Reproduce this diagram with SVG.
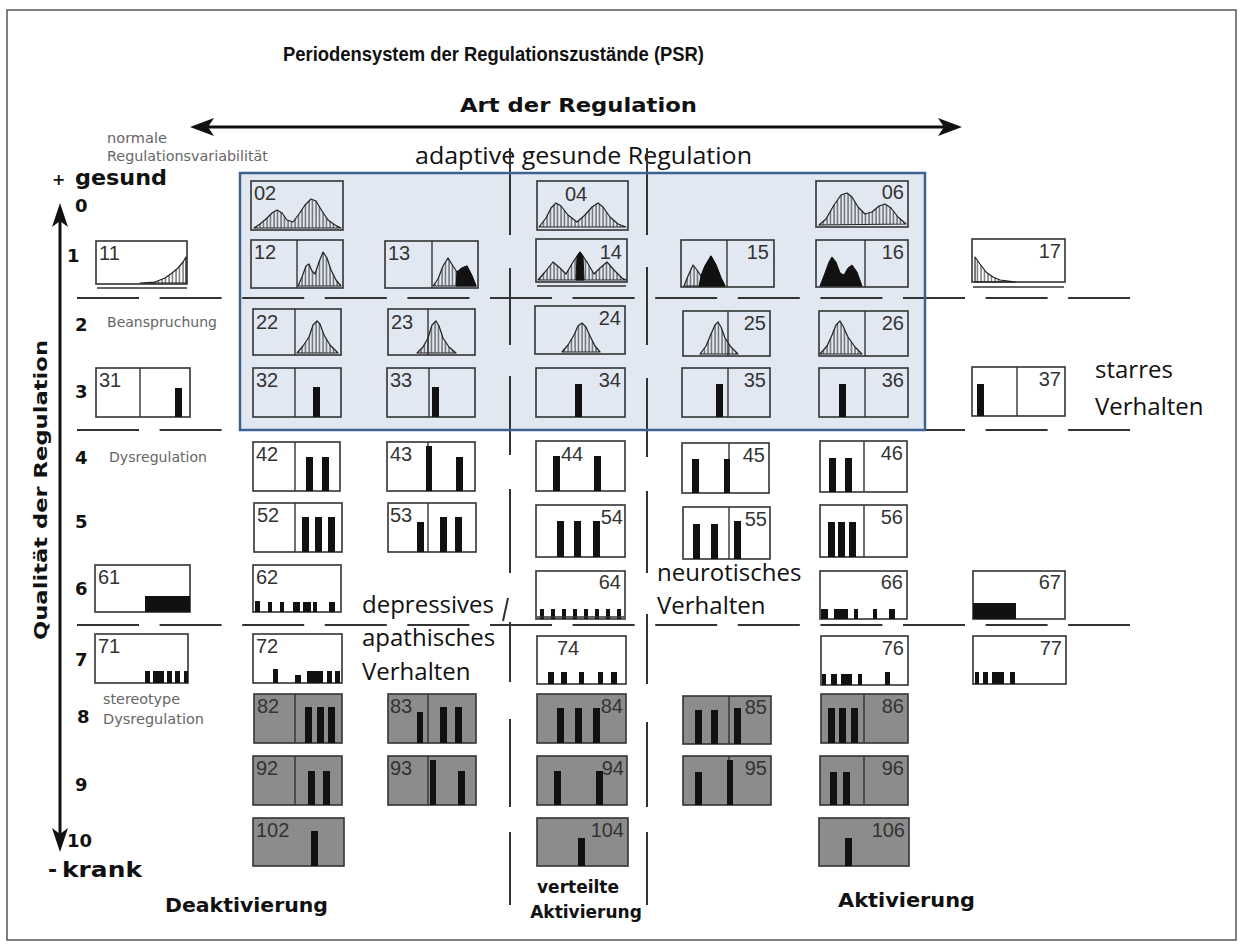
<svg xmlns="http://www.w3.org/2000/svg" width="1244" height="947" viewBox="0 0 1244 947">
<defs>
<style>
.bx{fill:none;stroke:#333;stroke-width:1.6}
.gb{fill:#8c8c8c;stroke:#333;stroke-width:1.6}
.sp{stroke:#333;stroke-width:1.4}
.lb{font-family:'Liberation Sans',Arial,sans-serif;font-size:20px;fill:#333}
.r{text-anchor:end}
.b{fill:#111}
.h{fill:url(#hatch);stroke:#222;stroke-width:1.2;stroke-linejoin:round}
.k{fill:#111;stroke:#111;stroke-width:1}
.dash{stroke:#333;stroke-width:2;stroke-dasharray:62 20.6;fill:none}
.vl{stroke:#333;stroke-width:2}
.hd{font-family:'DejaVu Sans',Verdana,sans-serif;font-weight:bold;fill:#111}
.sm{font-family:'DejaVu Sans',Verdana,sans-serif;font-size:14px;fill:#666}
.cal{font-family:'Open Sans','Liberation Sans',sans-serif;font-size:24px;fill:#111}
.ex{stroke:#333;stroke-width:1.6}
</style>
<pattern id="hatch" patternUnits="userSpaceOnUse" width="3.5" height="10">
<line x1="1" y1="0" x2="1" y2="10" stroke="#333" stroke-width="1"/>
</pattern>
</defs>
<rect x="7" y="10" width="1229" height="930" fill="#fff" stroke="#555" stroke-width="1.5"/>
<rect id="adaptive-area" x="240" y="173" width="685" height="257" fill="#e1e8f1"/>

<g id="titles">
<text x="283" y="61" font-family="'Liberation Sans',Arial,sans-serif" font-weight="bold" font-size="21" fill="#111" textLength="421" lengthAdjust="spacingAndGlyphs">Periodensystem der Regulationszustände (PSR)</text>
<text class="hd" x="460" y="112" font-size="19" textLength="237" lengthAdjust="spacingAndGlyphs">Art der Regulation</text>
<text class="sm" x="107" y="143" textLength="60" lengthAdjust="spacingAndGlyphs">normale</text>
<text class="sm" x="107" y="161" textLength="161" lengthAdjust="spacingAndGlyphs">Regulationsvariabilität</text>
<text class="cal" x="415" y="164" textLength="337" lengthAdjust="spacingAndGlyphs">adaptive gesunde Regulation</text>
<text class="hd" x="52" y="185" font-size="16">+</text>
<text class="hd" x="75" y="185" font-size="22" textLength="92" lengthAdjust="spacingAndGlyphs">gesund</text>
<text class="hd" x="48" y="877" font-size="22">-</text>
<text class="hd" x="62" y="877" font-size="22" textLength="80" lengthAdjust="spacingAndGlyphs">krank</text>
<text class="hd" font-size="18" text-anchor="middle" transform="translate(47,490) rotate(-90)" textLength="300" lengthAdjust="spacingAndGlyphs">Qualität der Regulation</text>
<text class="hd" x="165" y="912" font-size="19" textLength="163" lengthAdjust="spacingAndGlyphs">Deaktivierung</text>
<text class="hd" x="578" y="893" font-size="17" text-anchor="middle">verteilte</text>
<text class="hd" x="586" y="918" font-size="17" text-anchor="middle">Aktivierung</text>
<text class="hd" x="838" y="907" font-size="19" textLength="137" lengthAdjust="spacingAndGlyphs">Aktivierung</text>
<text class="sm" x="107" y="327" textLength="110" lengthAdjust="spacingAndGlyphs">Beanspruchung</text>
<text class="sm" x="109" y="462" textLength="98" lengthAdjust="spacingAndGlyphs">Dysregulation</text>
<text class="sm" x="103" y="704" textLength="77" lengthAdjust="spacingAndGlyphs">stereotype</text>
<text class="sm" x="103" y="724" textLength="101" lengthAdjust="spacingAndGlyphs">Dysregulation</text>
<text class="cal" x="1095" y="378">starres</text>
<text class="cal" x="1095" y="415">Verhalten</text>
<text class="cal" x="657" y="581">neurotisches</text>
<text class="cal" x="657" y="614">Verhalten</text>
<text class="cal" x="362" y="613">depressives</text>
<text class="cal" x="362" y="646">apathisches</text>
<text class="cal" x="362" y="680">Verhalten</text>
</g>

<g id="row-numbers" class="hd" font-size="18">
<text x="75" y="212">0</text>
<text x="67" y="262">1</text>
<text x="75" y="331">2</text>
<text x="75" y="398">3</text>
<text x="75" y="464">4</text>
<text x="75" y="528">5</text>
<text x="75" y="595">6</text>
<text x="75" y="666">7</text>
<text x="77" y="723">8</text>
<text x="75" y="791">9</text>
<text x="67" y="847">10</text>
</g>

<g id="connectors">
<line x1="198" y1="127" x2="954" y2="127" stroke="#111" stroke-width="3"/>
<polygon points="190,127 214,118 208,127 214,136" fill="#111"/>
<polygon points="962,127 938,118 944,127 938,136" fill="#111"/>
<line x1="60" y1="214" x2="60" y2="843" stroke="#111" stroke-width="3"/>
<polygon points="60,203 52,227 60,221 68,227" fill="#111"/>
<polygon points="60,852 52,828 60,834 68,828" fill="#111"/>
<line class="dash" x1="77" y1="298" x2="1130" y2="298"/>
<line class="dash" x1="77" y1="430" x2="1130" y2="430"/>
<line class="dash" x1="77" y1="625" x2="1130" y2="625"/>
<line class="vl" x1="510" y1="148" x2="510" y2="235"/>
<line class="vl" x1="510" y1="268" x2="510" y2="345"/>
<line class="vl" x1="510" y1="376" x2="510" y2="455"/>
<line class="vl" x1="510" y1="489" x2="510" y2="573"/>
<line class="vl" x1="508" y1="598" x2="503" y2="621"/>
<line class="vl" x1="510" y1="622" x2="510" y2="682"/>
<line class="vl" x1="510" y1="719" x2="510" y2="807"/>
<line class="vl" x1="510" y1="832" x2="510" y2="905"/>
<line class="vl" x1="647" y1="148" x2="647" y2="235"/>
<line class="vl" x1="647" y1="267" x2="647" y2="345"/>
<line class="vl" x1="647" y1="378" x2="647" y2="457"/>
<line class="vl" x1="647" y1="491" x2="647" y2="573"/>
<line class="vl" x1="647" y1="614" x2="647" y2="684"/>
<line class="vl" x1="647" y1="722" x2="647" y2="807"/>
<line class="vl" x1="647" y1="832" x2="647" y2="905"/>
</g>

<rect id="adaptive-frame" x="240" y="173" width="685" height="257" fill="none" stroke="#3d6190" stroke-width="2.5"/>

<!-- Row 0 -->
<g id="n02"><rect class="bx" x="251" y="181" width="92" height="49"/><path class="h" d="M254,228 L260,224 L266,219 L272,213 L277,210 L282,213 L287,220 L293,222 L299,214 L305,205 L311,199 L316,201 L322,211 L328,220 L335,225 L341,228 Z"/><text class="lb" x="254" y="200">02</text></g>
<g id="n04"><rect class="bx" x="537" y="181" width="91" height="49"/><path class="h" d="M539,227 L546,218 L551,208 L556,203 L561,206 L568,215 L577,222 L585,215 L592,207 L598,203 L603,207 L610,217 L618,224 L626,227 Z"/><text class="lb" x="565" y="201">04</text></g>
<g id="n06"><rect class="bx" x="816" y="181" width="92" height="46"/><path class="h" d="M819,225 L826,219 L834,205 L841,195 L847,193 L852,197 L858,207 L865,214 L872,212 L879,206 L885,204 L891,208 L898,217 L906,224 Z"/><text class="lb r" x="904" y="199">06</text></g>

<!-- Row 1 -->
<g id="n11"><rect class="bx" x="96" y="241" width="91" height="43"/><line class="ex" x1="97" y1="288" x2="187" y2="288"/><path class="h" d="M140,283 L155,282 L165,278 L172,273 L178,268 L183,262 L186,257 L186,283 Z"/><text class="lb" x="99" y="260">11</text></g>
<g id="n12"><rect class="bx" x="251" y="240" width="92" height="48"/><line class="sp" x1="297" y1="240" x2="297" y2="288"/><path class="h" d="M298,286 L302,277 L306,266 L309,264 L312,271 L315,274 L319,262 L323,252 L327,258 L331,270 L336,280 L341,286 Z"/><text class="lb" x="254" y="259">12</text></g>
<g id="n13"><rect class="bx" x="385" y="241" width="93" height="47"/><line class="sp" x1="432" y1="241" x2="432" y2="288"/><path class="h" d="M433,286 L438,279 L443,266 L448,258 L453,266 L457,272 L462,268 L467,266 L472,276 L476,286 Z"/><path class="k" d="M456,286 L457,272 L462,268 L467,266 L472,276 L476,286 Z"/><text class="lb" x="388" y="260">13</text></g>
<g id="n14"><rect class="bx" x="536" y="239" width="91" height="43"/><line class="ex" x1="537" y1="286" x2="626" y2="286"/><path class="h" d="M538,280 L545,272 L553,262 L560,268 L566,274 L573,262 L580,252 L587,262 L594,274 L600,268 L607,262 L614,270 L622,278 L626,280 Z"/><path class="k" d="M576,280 L577,256 L580,252 L583,256 L584,280 Z"/><text class="lb r" x="622" y="259">14</text></g>
<g id="n15"><rect class="bx" x="681" y="240" width="93" height="47"/><line class="sp" x1="727" y1="240" x2="727" y2="287"/><path class="h" d="M684,286 L688,276 L693,265 L697,270 L701,276 L705,266 L711,256 L716,265 L721,278 L725,286 Z"/><path class="k" d="M699,286 L701,276 L705,266 L711,256 L716,265 L721,278 L725,286 Z"/><text class="lb r" x="769" y="259">15</text></g>
<g id="n16"><rect class="bx" x="816" y="240" width="92" height="47"/><line class="sp" x1="865" y1="240" x2="865" y2="287"/><path class="k" d="M820,286 L825,273 L829,262 L832,257 L836,262 L840,273 L844,275 L848,268 L852,265 L857,272 L862,286 Z"/><text class="lb r" x="904" y="259">16</text></g>
<g id="n17"><rect class="bx" x="972" y="239" width="93" height="43"/><line class="ex" x1="973" y1="287" x2="1064" y2="287"/><path class="h" d="M975,282 L975,257 L980,264 L986,272 L993,277 L1000,280 L1008,281 L1016,282 Z"/><text class="lb r" x="1061" y="258">17</text></g>

<!-- Row 2 -->
<g id="n22"><rect class="bx" x="253" y="309" width="88" height="46"/><line class="sp" x1="295" y1="309" x2="295" y2="355"/><path class="h" d="M297,353 L303,346 L309,337 L313,325 L317,321 L320,324 L324,335 L330,345 L338,353 Z"/><text class="lb" x="256" y="329">22</text></g>
<g id="n23"><rect class="bx" x="388" y="309" width="87" height="46"/><line class="sp" x1="428" y1="309" x2="428" y2="355"/><path class="h" d="M417,353 L423,347 L428,338 L432,325 L436,321 L439,326 L443,338 L449,347 L456,353 Z"/><text class="lb" x="391" y="329">23</text></g>
<g id="n24"><rect class="bx" x="535" y="306" width="90" height="48"/><path class="h" d="M562,352 L568,345 L574,335 L578,326 L582,323 L586,327 L590,336 L595,346 L600,352 Z"/><text class="lb r" x="621" y="325">24</text></g>
<g id="n25"><rect class="bx" x="683" y="311" width="87" height="45"/><line class="sp" x1="728" y1="311" x2="728" y2="356"/><path class="h" d="M700,354 L706,346 L711,334 L715,325 L718,322 L721,327 L725,338 L731,347 L738,354 Z"/><text class="lb r" x="766" y="330">25</text></g>
<g id="n26"><rect class="bx" x="819" y="311" width="89" height="45"/><line class="sp" x1="865" y1="311" x2="865" y2="356"/><path class="h" d="M820,354 L827,346 L832,335 L836,325 L840,321 L843,326 L848,337 L855,347 L862,354 Z"/><text class="lb r" x="904" y="330">26</text></g>

<!-- Row 3 -->
<g id="n31"><rect class="bx" x="96" y="368" width="94" height="49"/><line class="sp" x1="140" y1="368" x2="140" y2="417"/><rect class="b" x="175" y="388" width="7" height="29"/><text class="lb" x="99" y="387">31</text></g>
<g id="n32"><rect class="bx" x="253" y="368" width="88" height="49"/><line class="sp" x1="295" y1="368" x2="295" y2="417"/><rect class="b" x="313" y="387" width="7" height="30"/><text class="lb" x="256" y="387">32</text></g>
<g id="n33"><rect class="bx" x="387" y="368" width="88" height="49"/><line class="sp" x1="429" y1="368" x2="429" y2="417"/><rect class="b" x="432" y="387" width="7" height="30"/><text class="lb" x="390" y="387">33</text></g>
<g id="n34"><rect class="bx" x="536" y="368" width="89" height="49"/><rect class="b" x="575" y="384" width="7" height="33"/><text class="lb r" x="621" y="387">34</text></g>
<g id="n35"><rect class="bx" x="682" y="368" width="88" height="49"/><line class="sp" x1="728" y1="368" x2="728" y2="417"/><rect class="b" x="716" y="384" width="7" height="33"/><text class="lb r" x="766" y="387">35</text></g>
<g id="n36"><rect class="bx" x="819" y="368" width="89" height="49"/><line class="sp" x1="865" y1="368" x2="865" y2="417"/><rect class="b" x="839" y="384" width="7" height="33"/><text class="lb r" x="904" y="387">36</text></g>
<g id="n37"><rect class="bx" x="972" y="367" width="93" height="49"/><line class="sp" x1="1017" y1="367" x2="1017" y2="416"/><rect class="b" x="977" y="384" width="7" height="32"/><text class="lb r" x="1061" y="386">37</text></g>

<!-- Row 4 -->
<g id="n42"><rect class="bx" x="253" y="442" width="87" height="49"/><line class="sp" x1="295" y1="442" x2="295" y2="491"/><rect class="b" x="306" y="457" width="7" height="34"/><rect class="b" x="322" y="457" width="7" height="34"/><text class="lb" x="256" y="461">42</text></g>
<g id="n43"><rect class="bx" x="387" y="442" width="88" height="49"/><line class="sp" x1="428" y1="442" x2="428" y2="491"/><rect class="b" x="426" y="446" width="6" height="45"/><rect class="b" x="456" y="457" width="7" height="34"/><text class="lb" x="390" y="461">43</text></g>
<g id="n44"><rect class="bx" x="536" y="441" width="89" height="50"/><rect class="b" x="553" y="456" width="7" height="35"/><rect class="b" x="594" y="456" width="7" height="35"/><text class="lb" x="561" y="461">44</text></g>
<g id="n45"><rect class="bx" x="682" y="443" width="87" height="50"/><line class="sp" x1="729" y1="443" x2="729" y2="493"/><rect class="b" x="692" y="459" width="7" height="34"/><rect class="b" x="724" y="459" width="6" height="34"/><text class="lb r" x="765" y="462">45</text></g>
<g id="n46"><rect class="bx" x="820" y="441" width="87" height="51"/><line class="sp" x1="864" y1="441" x2="864" y2="492"/><rect class="b" x="829" y="458" width="7" height="34"/><rect class="b" x="845" y="458" width="7" height="34"/><text class="lb r" x="903" y="460">46</text></g>

<!-- Row 5 -->
<g id="n52"><rect class="bx" x="254" y="503" width="88" height="49"/><line class="sp" x1="295" y1="503" x2="295" y2="552"/><rect class="b" x="302" y="517" width="7" height="35"/><rect class="b" x="315" y="517" width="7" height="35"/><rect class="b" x="328" y="517" width="7" height="35"/><text class="lb" x="257" y="522">52</text></g>
<g id="n53"><rect class="bx" x="388" y="503" width="88" height="49"/><line class="sp" x1="428" y1="503" x2="428" y2="552"/><rect class="b" x="417" y="522" width="7" height="30"/><rect class="b" x="440" y="517" width="7" height="35"/><rect class="b" x="455" y="517" width="7" height="35"/><text class="lb" x="390" y="522">53</text></g>
<g id="n54"><rect class="bx" x="536" y="505" width="89" height="52"/><rect class="b" x="557" y="521" width="7" height="36"/><rect class="b" x="574" y="521" width="7" height="36"/><rect class="b" x="593" y="521" width="7" height="36"/><text class="lb r" x="623" y="524">54</text></g>
<g id="n55"><rect class="bx" x="683" y="507" width="87" height="52"/><line class="sp" x1="729" y1="507" x2="729" y2="559"/><rect class="b" x="693" y="524" width="7" height="35"/><rect class="b" x="711" y="524" width="7" height="35"/><rect class="b" x="734" y="521" width="7" height="38"/><text class="lb r" x="767" y="526">55</text></g>
<g id="n56"><rect class="bx" x="820" y="505" width="87" height="52"/><line class="sp" x1="864" y1="505" x2="864" y2="557"/><rect class="b" x="828" y="522" width="7" height="35"/><rect class="b" x="838" y="522" width="7" height="35"/><rect class="b" x="849" y="522" width="7" height="35"/><text class="lb r" x="903" y="524">56</text></g>

<!-- Row 6 -->
<g id="n61"><rect class="bx" x="95" y="565" width="95" height="47"/><rect class="b" x="145" y="596" width="45" height="16"/><text class="lb" x="98" y="584">61</text></g>
<g id="n62"><rect class="bx" x="253" y="565" width="88" height="47"/><rect class="b" x="255" y="601" width="5" height="11"/><rect class="b" x="268" y="602" width="4" height="10"/><rect class="b" x="280" y="602" width="4" height="10"/><rect class="b" x="293" y="602" width="7" height="10"/><rect class="b" x="303" y="602" width="8" height="10"/><rect class="b" x="313" y="602" width="4" height="10"/><rect class="b" x="329" y="602" width="6" height="10"/><text class="lb" x="256" y="584">62</text></g>
<g id="n64"><rect class="bx" x="536" y="571" width="89" height="48"/><rect class="b" x="540" y="609" width="4" height="10"/><rect class="b" x="551" y="609" width="4" height="10"/><rect class="b" x="562" y="609" width="4" height="10"/><rect class="b" x="573" y="609" width="4" height="10"/><rect class="b" x="584" y="609" width="4" height="10"/><rect class="b" x="595" y="609" width="4" height="10"/><rect class="b" x="606" y="609" width="4" height="10"/><rect class="b" x="617" y="609" width="4" height="10"/><line class="ex" x1="537" y1="617" x2="624" y2="617" stroke-width="3"/><text class="lb r" x="621" y="589">64</text></g>
<g id="n66"><rect class="bx" x="820" y="571" width="87" height="48"/><rect class="b" x="821" y="609" width="7" height="10"/><rect class="b" x="834" y="609" width="14" height="10"/><rect class="b" x="854" y="609" width="4" height="10"/><rect class="b" x="873" y="609" width="4" height="10"/><rect class="b" x="889" y="609" width="6" height="10"/><text class="lb r" x="903" y="589">66</text></g>
<g id="n67"><rect class="bx" x="973" y="571" width="92" height="48"/><rect class="b" x="973" y="603" width="43" height="16"/><text class="lb r" x="1061" y="589">67</text></g>

<!-- Row 7 -->
<g id="n71"><rect class="bx" x="95" y="634" width="93" height="49"/><rect class="b" x="145" y="671" width="5" height="12"/><rect class="b" x="153" y="671" width="11" height="12"/><rect class="b" x="167" y="671" width="5" height="12"/><rect class="b" x="175" y="671" width="5" height="12"/><rect class="b" x="184" y="671" width="4" height="12"/><text class="lb" x="98" y="653">71</text></g>
<g id="n72"><rect class="bx" x="253" y="634" width="89" height="49"/><rect class="b" x="273" y="669" width="5" height="14"/><rect class="b" x="295" y="675" width="6" height="8"/><rect class="b" x="307" y="671" width="16" height="12"/><rect class="b" x="327" y="671" width="5" height="12"/><rect class="b" x="335" y="671" width="5" height="12"/><text class="lb" x="256" y="653">72</text></g>
<g id="n74"><rect class="bx" x="537" y="636" width="89" height="48"/><rect class="b" x="548" y="672" width="6" height="12"/><rect class="b" x="561" y="672" width="6" height="12"/><rect class="b" x="579" y="672" width="5" height="12"/><rect class="b" x="598" y="672" width="5" height="12"/><rect class="b" x="611" y="672" width="6" height="12"/><text class="lb" x="557" y="655">74</text></g>
<g id="n76"><rect class="bx" x="821" y="636" width="87" height="49"/><rect class="b" x="822" y="674" width="4" height="11"/><rect class="b" x="831" y="674" width="6" height="11"/><rect class="b" x="841" y="674" width="11" height="11"/><rect class="b" x="858" y="674" width="4" height="11"/><rect class="b" x="885" y="672" width="5" height="13"/><text class="lb r" x="904" y="655">76</text></g>
<g id="n77"><rect class="bx" x="973" y="636" width="93" height="48"/><rect class="b" x="975" y="672" width="4" height="12"/><rect class="b" x="983" y="672" width="5" height="12"/><rect class="b" x="992" y="672" width="12" height="12"/><rect class="b" x="1010" y="672" width="5" height="12"/><text class="lb r" x="1062" y="655">77</text></g>

<!-- Row 8 -->
<g id="n82"><rect class="gb" x="254" y="694" width="88" height="49"/><line class="sp" x1="295" y1="694" x2="295" y2="743"/><rect class="b" x="305" y="707" width="7" height="36"/><rect class="b" x="317" y="707" width="7" height="36"/><rect class="b" x="328" y="707" width="7" height="36"/><text class="lb" x="257" y="713">82</text></g>
<g id="n83"><rect class="gb" x="388" y="694" width="88" height="49"/><line class="sp" x1="428" y1="694" x2="428" y2="743"/><rect class="b" x="417" y="712" width="6" height="31"/><rect class="b" x="440" y="707" width="7" height="36"/><rect class="b" x="455" y="707" width="7" height="36"/><text class="lb" x="390" y="713">83</text></g>
<g id="n84"><rect class="gb" x="537" y="694" width="89" height="49"/><rect class="b" x="557" y="708" width="7" height="35"/><rect class="b" x="575" y="708" width="7" height="35"/><rect class="b" x="593" y="708" width="7" height="35"/><text class="lb r" x="623" y="713">84</text></g>
<g id="n85"><rect class="gb" x="683" y="696" width="88" height="48"/><line class="sp" x1="729" y1="696" x2="729" y2="744"/><rect class="b" x="695" y="710" width="7" height="34"/><rect class="b" x="711" y="710" width="7" height="34"/><rect class="b" x="734" y="708" width="7" height="36"/><text class="lb r" x="767" y="714">85</text></g>
<g id="n86"><rect class="gb" x="821" y="694" width="87" height="49"/><line class="sp" x1="864" y1="694" x2="864" y2="743"/><rect class="b" x="828" y="708" width="7" height="35"/><rect class="b" x="839" y="708" width="7" height="35"/><rect class="b" x="851" y="708" width="7" height="35"/><text class="lb r" x="904" y="713">86</text></g>

<!-- Row 9 -->
<g id="n92"><rect class="gb" x="253" y="756" width="89" height="49"/><line class="sp" x1="295" y1="756" x2="295" y2="805"/><rect class="b" x="308" y="771" width="7" height="34"/><rect class="b" x="323" y="771" width="7" height="34"/><text class="lb" x="256" y="775">92</text></g>
<g id="n93"><rect class="gb" x="388" y="756" width="88" height="49"/><line class="sp" x1="428" y1="756" x2="428" y2="805"/><rect class="b" x="430" y="760" width="6" height="45"/><rect class="b" x="458" y="771" width="7" height="34"/><text class="lb" x="390" y="775">93</text></g>
<g id="n94"><rect class="gb" x="537" y="756" width="90" height="49"/><rect class="b" x="554" y="771" width="7" height="34"/><rect class="b" x="596" y="771" width="7" height="34"/><text class="lb r" x="624" y="775">94</text></g>
<g id="n95"><rect class="gb" x="683" y="756" width="88" height="49"/><line class="sp" x1="729" y1="756" x2="729" y2="805"/><rect class="b" x="695" y="772" width="7" height="33"/><rect class="b" x="727" y="760" width="6" height="45"/><text class="lb r" x="767" y="775">95</text></g>
<g id="n96"><rect class="gb" x="820" y="756" width="88" height="49"/><line class="sp" x1="864" y1="756" x2="864" y2="805"/><rect class="b" x="830" y="772" width="7" height="33"/><rect class="b" x="843" y="772" width="7" height="33"/><text class="lb r" x="904" y="775">96</text></g>

<!-- Row 10 -->
<g id="n102"><rect class="gb" x="253" y="818" width="91" height="48"/><rect class="b" x="311" y="831" width="7" height="35"/><text class="lb" x="256" y="837">102</text></g>
<g id="n104"><rect class="gb" x="537" y="818" width="91" height="48"/><rect class="b" x="578" y="838" width="7" height="28"/><text class="lb r" x="624" y="837">104</text></g>
<g id="n106"><rect class="gb" x="819" y="818" width="90" height="48"/><rect class="b" x="845" y="838" width="7" height="28"/><text class="lb r" x="905" y="837">106</text></g>
</svg>
